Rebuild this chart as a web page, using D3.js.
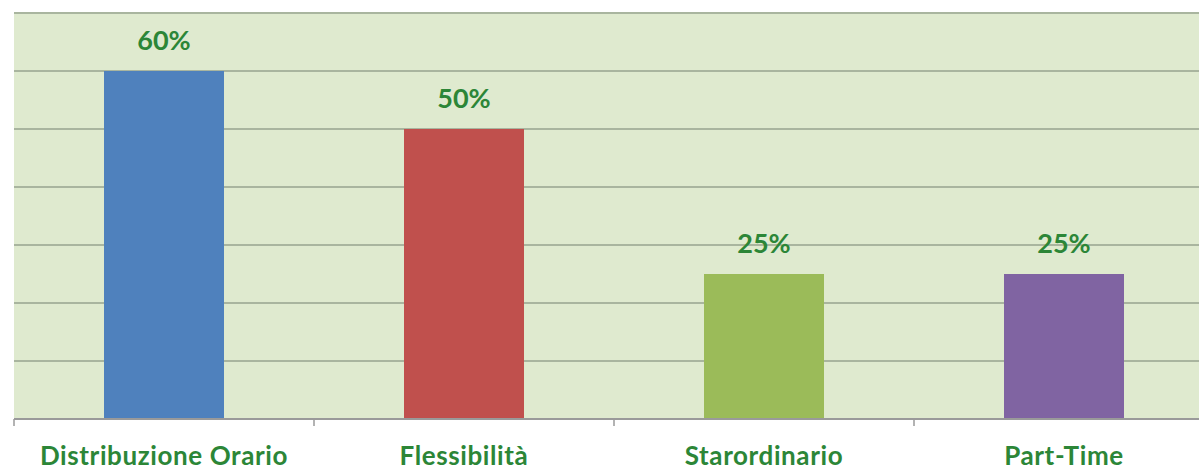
<!DOCTYPE html>
<html>
<head>
<meta charset="utf-8">
<script src="https://cdn.jsdelivr.net/npm/d3@7"></script>
<style>
  html, body { margin: 0; padding: 0; background: #ffffff; }
  svg { display: block; }
</style>
</head>
<body>
<svg id="chart" width="1199" height="475"></svg>
<script>
const categories = ["Distribuzione Orario", "Flessibilità", "Starordinario", "Part-Time"];
const values = [60, 50, 25, 25];
const valueLabels = ["60%", "50%", "25%", "25%"];
const barColors = ["#4f81bd", "#c0504d", "#9bbb59", "#8064a2"];
const gridTicks = [0, 10, 20, 30, 40, 50, 60, 70];

(function () {
const svg = d3.select("#chart");
const mLeft = 14, mRight = 1214, mTop = 13, mBottom = 419;

const x = d3.scaleBand().domain(categories).range([mLeft, mRight]).paddingInner(0.6).paddingOuter(0.3);
const y = d3.scaleLinear().domain([0, 70]).range([mBottom, mTop]);

// plot background
svg.append("rect")
  .attr("x", mLeft).attr("y", mTop)
  .attr("width", mRight - mLeft).attr("height", mBottom - mTop)
  .attr("fill", "#dfeacf");

// gridlines
svg.append("g")
  .selectAll("line")
  .data(gridTicks.slice(1))
  .join("line")
  .attr("x1", mLeft).attr("x2", mRight)
  .attr("y1", d => y(d)).attr("y2", d => y(d))
  .attr("stroke", "#a9b59f").attr("stroke-width", 2);

// bars
svg.append("g")
  .selectAll("rect")
  .data(values)
  .join("rect")
  .attr("x", (d, i) => x(categories[i]))
  .attr("width", x.bandwidth())
  .attr("y", d => y(d))
  .attr("height", d => y(0) - y(d))
  .attr("fill", (d, i) => barColors[i]);

// value labels
svg.append("g")
  .selectAll("text")
  .data(values)
  .join("text")
  .attr("x", (d, i) => x(categories[i]) + x.bandwidth() / 2)
  .attr("y", d => y(d) - 21)
  .attr("text-anchor", "middle")
  .attr("font-family", "Lato, 'Open Sans', sans-serif")
  .attr("font-weight", "bold")
  .attr("font-size", 27)
  .attr("fill", "#2c8637")
  .text((d, i) => valueLabels[i]);

// x axis
const outer = d3.scaleBand().domain(categories).range([mLeft, mRight]);
const xAxis = svg.append("g").attr("transform", `translate(0,${mBottom})`);
xAxis.append("line")
  .attr("x1", mLeft).attr("x2", mRight)
  .attr("stroke", "#9a9a9a").attr("stroke-width", 2);
xAxis.selectAll("line.tick")
  .data(categories)
  .join("line")
  .attr("class", "tick")
  .attr("x1", d => outer(d)).attr("x2", d => outer(d))
  .attr("y1", 0).attr("y2", 7)
  .attr("stroke", "#9a9a9a").attr("stroke-width", 1.5);
xAxis.selectAll("text")
  .data(categories)
  .join("text")
  .attr("x", d => x(d) + x.bandwidth() / 2)
  .attr("y", 46)
  .attr("text-anchor", "middle")
  .attr("font-family", "Lato, 'Open Sans', sans-serif")
  .attr("font-weight", "bold")
  .attr("font-size", 26)
  .attr("letter-spacing", 0.6)
  .attr("fill", "#2c8637")
  .text(d => d);
})();
</script>
</body>
</html>
